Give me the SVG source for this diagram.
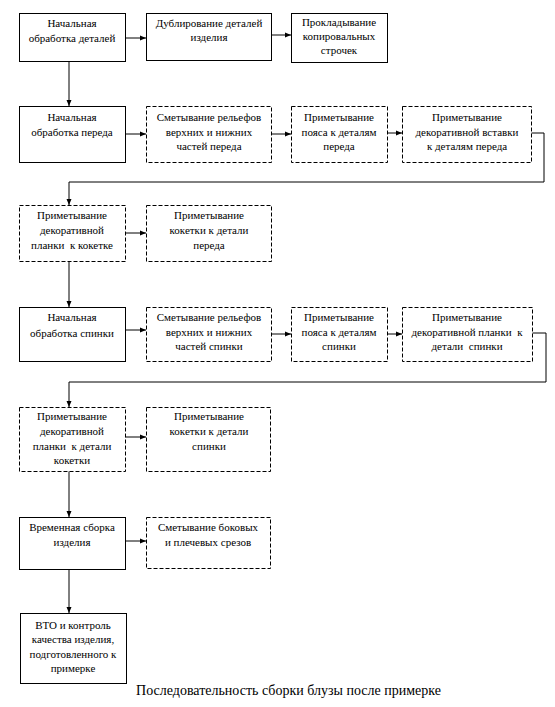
<svg xmlns="http://www.w3.org/2000/svg" width="555" height="707" viewBox="0 0 555 707">
<style>
.b{fill:#fff;stroke:#000;stroke-width:1}
.d{fill:#fff;stroke:#000;stroke-width:1;stroke-dasharray:4 2}
text{font-family:"Liberation Serif","Times New Roman",serif;font-size:11px;fill:#000;text-anchor:middle;white-space:pre}
.cap{font-size:14px}
.c{fill:none;stroke:#000;stroke-width:1}
</style>
<defs>
<marker id="ah" markerUnits="userSpaceOnUse" markerWidth="6" markerHeight="6" refX="6" refY="3" orient="auto">
<path d="M0,0.5 L6,3 L0,5.5 Z" fill="#000"/>
</marker>
</defs>
<g id="connectors">
<path class="c" d="M125,38 H146" marker-end="url(#ah)"/>
<path class="c" d="M272,35 H291" marker-end="url(#ah)"/>
<path class="c" d="M69,61 V106" marker-end="url(#ah)"/>
<path class="c" d="M125,134 H146" marker-end="url(#ah)"/>
<path class="c" d="M271,134 H291" marker-end="url(#ah)"/>
<path class="c" d="M388,133 H402" marker-end="url(#ah)"/>
<path class="c" d="M531,133 H544 V182 H69 V205" marker-end="url(#ah)"/>
<path class="c" d="M125,233 H146" marker-end="url(#ah)"/>
<path class="c" d="M69,261 V307" marker-end="url(#ah)"/>
<path class="c" d="M125,330 H146" marker-end="url(#ah)"/>
<path class="c" d="M271,334 H291" marker-end="url(#ah)"/>
<path class="c" d="M387,334 H402" marker-end="url(#ah)"/>
<path class="c" d="M532,333 H546 V382 H69 V407" marker-end="url(#ah)"/>
<path class="c" d="M125,437 H146" marker-end="url(#ah)"/>
<path class="c" d="M69,471 V517" marker-end="url(#ah)"/>
<path class="c" d="M125,541 H146" marker-end="url(#ah)"/>
<path class="c" d="M69,569 V613" marker-end="url(#ah)"/>
</g>
<g id="nA"><rect class="b" x="19.5" y="13.5" width="106" height="48"/><text x="72" y="27">Начальная</text><text x="72" y="42">обработка деталей</text></g>
<g id="nB"><rect class="b" x="146.5" y="13.5" width="125" height="47"/><text x="209" y="27">Дублирование деталей</text><text x="209" y="41">изделия</text></g>
<g id="nC"><rect class="b" x="291.5" y="13.5" width="96" height="49"/><text x="339" y="26">Прокладывание</text><text x="339" y="40">копировальных</text><text x="339" y="54">строчек</text></g>
<g id="nD"><rect class="b" x="19.5" y="106.5" width="106" height="56"/><text x="72" y="121">Начальная</text><text x="72" y="136">обработка переда</text></g>
<g id="nE"><rect class="d" x="146.5" y="106.5" width="125" height="56"/><text x="209" y="121">Сметывание рельефов</text><text x="209" y="135.5">верхних и нижних</text><text x="209" y="150">частей переда</text></g>
<g id="nF"><rect class="d" x="291.5" y="106.5" width="96" height="56"/><text x="339" y="121">Приметывание</text><text x="339" y="135.5">пояса к деталям</text><text x="339" y="150">переда</text></g>
<g id="nG"><rect class="d" x="402.5" y="106.5" width="129" height="56"/><text x="467" y="121">Приметывание</text><text x="467" y="135.5">декоративной вставки</text><text x="467" y="150">к деталям переда</text></g>
<g id="nH"><rect class="d" x="19.5" y="205.5" width="106" height="56"/><text x="72" y="219">Приметывание</text><text x="72" y="234">декоративной</text><text x="72" y="249" xml:space="preserve">планки  к кокетке</text></g>
<g id="nI"><rect class="d" x="146.5" y="205.5" width="125" height="56"/><text x="209" y="219">Приметывание</text><text x="209" y="234">кокетки к детали</text><text x="209" y="249">переда</text></g>
<g id="nJ"><rect class="b" x="19.5" y="307.5" width="106" height="54"/><text x="72" y="321">Начальная</text><text x="72" y="337">обработка спинки</text></g>
<g id="nK"><rect class="d" x="146.5" y="307.5" width="125" height="54"/><text x="209" y="321">Сметывание рельефов</text><text x="209" y="335.5">верхних и нижних</text><text x="209" y="350">частей спинки</text></g>
<g id="nL"><rect class="d" x="291.5" y="307.5" width="96" height="54"/><text x="339" y="321">Приметывание</text><text x="339" y="335.5">пояса к деталям</text><text x="339" y="350">спинки</text></g>
<g id="nM"><rect class="d" x="402.5" y="307.5" width="130" height="54"/><text x="467" y="321">Приметывание</text><text x="467" y="335.5" xml:space="preserve">декоративной планки  к</text><text x="467" y="350" xml:space="preserve">детали  спинки</text></g>
<g id="nN"><rect class="d" x="19.5" y="407.5" width="106" height="64"/><text x="72" y="420">Приметывание</text><text x="72" y="435">декоративной</text><text x="72" y="450" xml:space="preserve">планки  к детали</text><text x="72" y="464">кокетки</text></g>
<g id="nO"><rect class="d" x="146.5" y="407.5" width="124" height="64"/><text x="209" y="420">Приметывание</text><text x="209" y="435">кокетки к детали</text><text x="209" y="450">спинки</text></g>
<g id="nP"><rect class="b" x="19.5" y="517.5" width="106" height="52"/><text x="72" y="531">Временная сборка</text><text x="72" y="546">изделия</text></g>
<g id="nQ"><rect class="d" x="146.5" y="517.5" width="124" height="51"/><text x="208" y="531">Сметывание боковых</text><text x="208" y="546">и плечевых срезов</text></g>
<g id="nR"><rect class="b" x="20.5" y="613.5" width="106" height="70"/><text x="73" y="629">ВТО и контроль</text><text x="73" y="643">качества изделия,</text><text x="73" y="657.5">подготовленного к</text><text x="73" y="672">примерке</text></g>
<text class="cap" x="288.5" y="695">Последовательность сборки блузы после примерке</text>
</svg>
